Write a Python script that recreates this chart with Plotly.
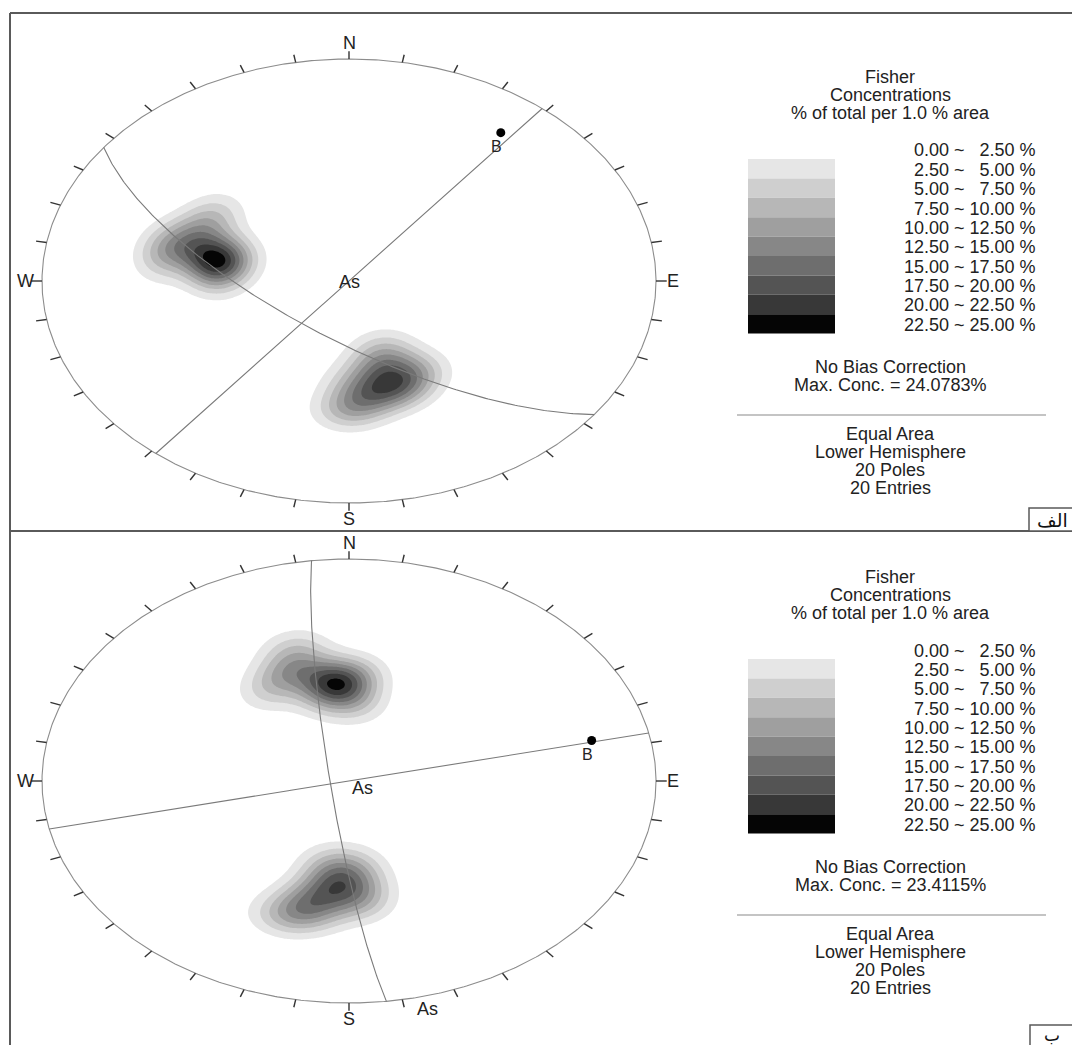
import numpy as np
import plotly.graph_objects as go

W, H = 1072, 1045

# ---------------- data ----------------
# Poles (trend, plunge in degrees), 20 per diagram
top_pole_trend = [282.4, 281.1, 283.5, 285.1, 287.0, 279.6, 294.5, 304.3, 285.2, 273.5,
                  164.8, 158.7, 168.9, 159.6, 167.4, 177.0, 181.3, 150.6, 159.3, 177.6]
top_pole_plunge = [53.7, 55.3, 51.8, 45.4, 39.5, 37.6, 45.7, 46.1, 57.6, 54.0,
                   49.9, 53.8, 46.6, 46.6, 58.2, 43.4, 40.7, 51.1, 62.8, 51.3]
bottom_pole_trend = [355.0, 357.0, 352.6, 344.3, 337.0, 327.9, 348.6, 2.7, 343.6, 3.2,
                     190.9, 183.7, 188.1, 195.9, 200.0, 177.2, 175.8, 191.9, 189.3, 176.3]
bottom_pole_plunge = [53.5, 54.7, 52.5, 46.1, 45.7, 50.0, 57.5, 49.7, 37.6, 61.2,
                      45.4, 52.4, 49.7, 41.5, 34.7, 57.8, 49.3, 38.3, 58.6, 43.4]

# Great circles (dip direction, dip)
top_plane_dipdir = [217, 129]
top_plane_dip = [70, 90]
bottom_plane_dipdir = [263, 167.5]
bottom_plane_dip = [85, 90]

# Beta axis B (trend, plunge)
top_beta_trend, top_beta_plunge = [36.5], [18]
bottom_beta_trend, bottom_beta_plunge = [77], [20]

# Legend
range_labels = ["0.00 ~\u00a0\u00a0 2.50 %", "2.50 ~\u00a0\u00a0 5.00 %", "5.00 ~\u00a0\u00a0 7.50 %",
                "7.50 ~ 10.00 %", "10.00 ~ 12.50 %", "12.50 ~ 15.00 %", "15.00 ~ 17.50 %",
                "17.50 ~ 20.00 %", "20.00 ~ 22.50 %", "22.50 ~ 25.00 %"]
band_colors = ["#ffffff", "#e6e6e6", "#cfcfcf", "#b7b7b7", "#9f9f9f", "#878787",
               "#6e6e6e", "#545454", "#383838", "#050505", "#000000"]
max_conc = ["24.0783%", "23.4115%"]
header_lines = ["Fisher", "Concentrations", "% of total per 1.0 % area"]
footer_lines = ["Equal Area", "Lower Hemisphere", "20 Poles", "20 Entries"]
cardinals = ["N", "E", "S", "W"]
panel_tags = ["الف", "ب"]
K_FISHER = 100.0

# ---------------- geometry (pixels) ----------------
CX, RX, RY = 349.0, 307.0, 222.0
CY = [281.0, 781.0]
FONT = "Liberation Sans, Arial, sans-serif"
FS = 18


def project(trend, plunge):
    t = np.radians(np.asarray(trend, float))
    p = np.radians(np.asarray(plunge, float))
    r = np.sqrt(2) * np.sin((np.pi / 2 - p) / 2)
    return r * np.sin(t), r * np.cos(t)


def plane_curve(dipdir, dip, n=241):
    dd, d = np.radians(dipdir), np.radians(dip)
    s = np.array([np.sin(dd - np.pi / 2), np.cos(dd - np.pi / 2), 0.0])
    dv = np.array([np.cos(d) * np.sin(dd), np.cos(d) * np.cos(dd), np.sin(d)])
    phi = np.linspace(0, np.pi, n)
    v = np.outer(np.cos(phi), s) + np.outer(np.sin(phi), dv)
    v[v[:, 2] < 0] *= -1
    th = np.arccos(np.clip(v[:, 2], -1, 1))
    az = np.arctan2(v[:, 0], v[:, 1])
    r = np.sqrt(2) * np.sin(th / 2)
    return r * np.sin(az), r * np.cos(az)


g = np.linspace(-1, 1, 321)
GX, GY = np.meshgrid(g, g)
GR = np.hypot(GX, GY)
inside = GR <= 1.0
gth = 2 * np.arcsin(np.clip(GR / np.sqrt(2), 0, 1))
gaz = np.arctan2(GX, GY)
ve, vn, vd = np.sin(gth) * np.sin(gaz), np.sin(gth) * np.cos(gaz), np.cos(gth)


def fisher_density(trends, plunges, K):
    t = np.radians(np.asarray(trends, float))
    p = np.radians(np.asarray(plunges, float))
    pe, pn, pd = np.cos(p) * np.sin(t), np.cos(p) * np.cos(t), np.sin(p)
    D = np.zeros_like(GX)
    for a, b, c in zip(pe, pn, pd):
        ca = np.abs(ve * a + vn * b + vd * c)
        D += K * np.exp(K * (ca - 1)) / (1 - np.exp(-2 * K))
    D /= len(trends)
    D[~inside] = 0.0
    return D


colorscale = [[i / 10, c] for i, c in enumerate(band_colors)]

fig = go.Figure()
annotations = []
shapes = []

panels = [
    (top_pole_trend, top_pole_plunge, top_plane_dipdir, top_plane_dip, top_beta_trend, top_beta_plunge),
    (bottom_pole_trend, bottom_pole_plunge, bottom_plane_dipdir, bottom_plane_dip, bottom_beta_trend, bottom_beta_plunge),
]


def txt(x, y, t, xref="paper", yref="paper", xanchor="center", size=FS, **kw):
    return dict(x=x, y=y, xref=xref, yref=yref, text=t, showarrow=False, xanchor=xanchor,
                yanchor="middle", font=dict(family=FONT, size=size, color="#222"), **kw)


for k, (pt, pp, pdd, pdip, bt, bp) in enumerate(panels):
    xa, ya = ("x", "y") if k == 0 else ("x2", "y2")
    D = fisher_density(pt, pp, K_FISHER)
    fig.add_trace(go.Contour(x=g, y=g, z=D, xaxis=xa, yaxis=ya, autocontour=False,
                             contours=dict(start=2.5, end=25, size=2.5, coloring="fill", showlines=False),
                             colorscale=colorscale, showscale=False, line=dict(width=0),
                             hoverinfo="skip"))
    a = np.radians(np.linspace(0, 360, 721))
    fig.add_trace(go.Scatter(x=np.sin(a), y=np.cos(a), mode="lines", xaxis=xa, yaxis=ya,
                             line=dict(color="#8c8c8c", width=1.1), hoverinfo="skip"))
    tx, ty = [], []
    for az in np.radians(np.arange(0, 360, 10)):
        tx += [np.sin(az), 1.035 * np.sin(az), None]
        ty += [np.cos(az), 1.035 * np.cos(az), None]
    fig.add_trace(go.Scatter(x=tx, y=ty, mode="lines", xaxis=xa, yaxis=ya,
                             line=dict(color="#333333", width=1.4), hoverinfo="skip"))
    for ddir, dp in zip(pdd, pdip):
        x, y = plane_curve(ddir, dp)
        fig.add_trace(go.Scatter(x=x, y=y, mode="lines", xaxis=xa, yaxis=ya,
                                 line=dict(color="#7a7a7a", width=1.1), hoverinfo="skip"))
    bx, by = project(bt, bp)
    fig.add_trace(go.Scatter(x=bx, y=by, mode="markers", xaxis=xa, yaxis=ya,
                             marker=dict(color="black", size=9), hoverinfo="skip"))
    annotations.append(txt(bx[0], by[0], "B", xa, ya, size=16, xshift=-4, yshift=-14))
    for lab, az in zip(cardinals, [0, 90, 180, 270]):
        ar = np.radians(az)
        rr = 1.07 if az in (0, 180) else 1.055
        annotations.append(txt(rr * np.sin(ar), rr * np.cos(ar), lab, xa, ya))
    if k == 0:
        annotations.append(txt(0, 0, "As", xa, ya, yshift=-1))
    else:
        annotations.append(txt(0, 0, "As", xa, ya, xshift=13, yshift=-7))
        ar = np.radians(166)
        annotations.append(txt(1.06 * np.sin(ar), 1.06 * np.cos(ar), "As", xa, ya))

    off = CY[k] - CY[0]

    def px(xp):
        return xp / W

    def py(yp):
        return 1 - (yp + off) / H

    for i, t in enumerate(header_lines):
        annotations.append(txt(px(890), py(77 + 18 * i), t))
    for i, t in enumerate(range_labels):
        annotations.append(txt(px(1038), py(150.5 + 19.35 * i), t, xanchor="right"))
    for i in range(9):
        shapes.append(dict(type="rect", xref="paper", yref="paper", x0=px(748), x1=px(835),
                           y0=py(159 + 19.4 * i), y1=py(159 + 19.4 * (i + 1)),
                           fillcolor=band_colors[i + 1], line=dict(width=0), layer="above"))
    annotations.append(txt(px(890), py(367), "No Bias Correction"))
    annotations.append(txt(px(890), py(385), "Max. Conc. = " + max_conc[k]))
    shapes.append(dict(type="line", xref="paper", yref="paper", x0=px(737), x1=px(1046),
                       y0=py(415), y1=py(415), line=dict(color="#b0b0b0", width=1.5), layer="above"))
    for i, t in enumerate(footer_lines):
        annotations.append(txt(px(890), py(434 + 18 * i), t))


def fx(p):
    return p / W


def fy(p):
    return 1 - p / H


frame_col = "#5a5a5a"
shapes += [
    dict(type="line", xref="paper", yref="paper", x0=fx(10), x1=1, y0=fy(13), y1=fy(13),
         line=dict(color=frame_col, width=2), layer="above"),
    dict(type="line", xref="paper", yref="paper", x0=fx(10), x1=fx(10), y0=fy(13), y1=0,
         line=dict(color=frame_col, width=2), layer="above"),
    dict(type="line", xref="paper", yref="paper", x0=fx(10), x1=1, y0=fy(531), y1=fy(531),
         line=dict(color=frame_col, width=2), layer="above"),
    dict(type="rect", xref="paper", yref="paper", x0=fx(1029), x1=fx(1075), y0=fy(531), y1=fy(508),
         line=dict(color=frame_col, width=1.5), fillcolor="white", layer="above"),
    dict(type="rect", xref="paper", yref="paper", x0=fx(1030), x1=fx(1075), y0=fy(1048), y1=fy(1025),
         line=dict(color=frame_col, width=1.5), fillcolor="white", layer="above"),
]
annotations.append(dict(x=fx(1052), y=fy(520), xref="paper", yref="paper", text=panel_tags[0],
                        showarrow=False, xanchor="center", yanchor="middle",
                        font=dict(family="DejaVu Sans", size=19, color="#111")))
annotations.append(dict(x=fx(1052), y=fy(1035), xref="paper", yref="paper", text=panel_tags[1],
                        showarrow=False, xanchor="center", yanchor="middle",
                        font=dict(family="DejaVu Sans", size=17, color="#111")))

xr = [(0 - CX) / RX, (W - CX) / RX]
ax_common = dict(visible=False, showgrid=False, zeroline=False, fixedrange=True, domain=[0, 1])
fig.update_layout(
    width=W, height=H, margin=dict(l=0, r=0, t=0, b=0),
    paper_bgcolor="white", plot_bgcolor="rgba(0,0,0,0)", showlegend=False,
    xaxis=dict(range=xr, anchor="y", **ax_common),
    yaxis=dict(range=[(CY[0] - H) / RY, CY[0] / RY], anchor="x", **ax_common),
    xaxis2=dict(range=xr, anchor="y2", **ax_common),
    yaxis2=dict(range=[(CY[1] - H) / RY, CY[1] / RY], anchor="x2", **ax_common),
    annotations=annotations, shapes=shapes,
)

fig.write_html("out.html", config={"displayModeBar": False, "staticPlot": True},
               post_script="document.body.style.margin='0';document.body.style.overflow='hidden';")
